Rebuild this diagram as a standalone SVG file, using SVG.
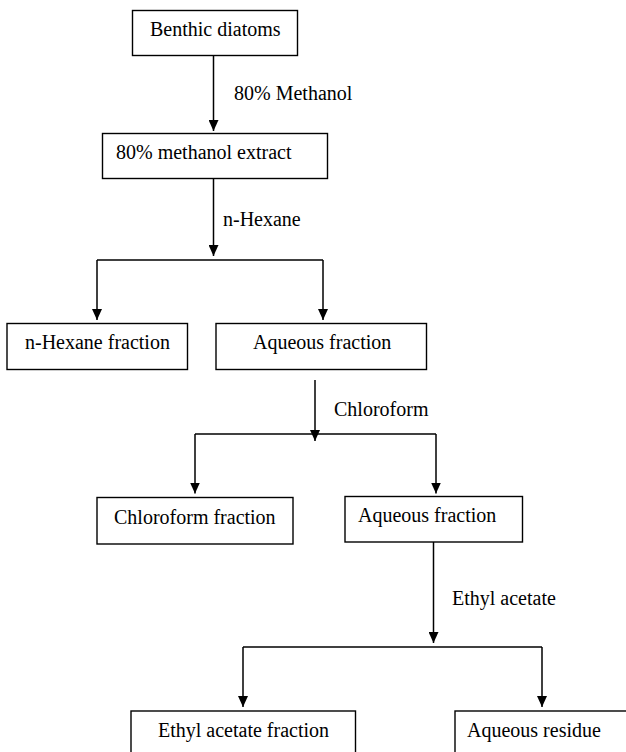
<svg xmlns="http://www.w3.org/2000/svg" width="626" height="752" viewBox="0 0 626 752">
<style>
.box{fill:#fff;stroke:#000;stroke-width:1.4}
.c{fill:none;stroke:#000;stroke-width:1.5}
</style>
<defs>
<marker id="ah" viewBox="0 0 11 10" refX="11" refY="5" markerWidth="11" markerHeight="10" orient="auto" markerUnits="userSpaceOnUse"><path d="M0,0 L11,5 L0,10 z" fill="#000"/></marker>
</defs>
<rect width="626" height="752" fill="#fff"/>
<g id="connectors">
<path class="c" d="M213.5,55.5 V131" marker-end="url(#ah)"/>
<path class="c" d="M213.5,178.5 V256" marker-end="url(#ah)"/>
<path class="c" d="M97,260 H323"/>
<path class="c" d="M97,260 V320" marker-end="url(#ah)"/>
<path class="c" d="M323,260 V320" marker-end="url(#ah)"/>
<path class="c" d="M315,380 V441" marker-end="url(#ah)"/>
<path class="c" d="M195,434 H436"/>
<path class="c" d="M195,434 V493.5" marker-end="url(#ah)"/>
<path class="c" d="M436,434 V493.5" marker-end="url(#ah)"/>
<path class="c" d="M433.5,542 V643" marker-end="url(#ah)"/>
<path class="c" d="M243,647 H542"/>
<path class="c" d="M243,647 V707" marker-end="url(#ah)"/>
<path class="c" d="M542,647 V707" marker-end="url(#ah)"/>
<text x="234" y="100" font-family="Liberation Serif" font-size="20" style="font-family:'Liberation Serif',serif;font-size:20px">80% Methanol</text>
<text x="223" y="226" font-family="Liberation Serif" font-size="20" style="font-family:'Liberation Serif',serif;font-size:20px">n-Hexane</text>
<text x="334" y="416" font-family="Liberation Serif" font-size="20" style="font-family:'Liberation Serif',serif;font-size:20px">Chloroform</text>
<text x="452" y="605" font-family="Liberation Serif" font-size="20" style="font-family:'Liberation Serif',serif;font-size:20px">Ethyl acetate</text>
</g>
<g id="n1"><rect class="box" x="132.5" y="10.5" width="165" height="45"/><text x="150" y="36" font-family="Liberation Serif" font-size="20" style="font-family:'Liberation Serif',serif;font-size:20px">Benthic diatoms</text></g>
<g id="n2"><rect class="box" x="102.5" y="133.5" width="225" height="45"/><text x="116" y="159" font-family="Liberation Serif" font-size="20" style="font-family:'Liberation Serif',serif;font-size:20px">80% methanol extract</text></g>
<g id="n3"><rect class="box" x="7" y="323.5" width="180.5" height="46"/><text x="25" y="349" font-family="Liberation Serif" font-size="20" style="font-family:'Liberation Serif',serif;font-size:20px">n-Hexane fraction</text></g>
<g id="n4"><rect class="box" x="216" y="323.5" width="210.5" height="46"/><text x="253" y="349" font-family="Liberation Serif" font-size="20" style="font-family:'Liberation Serif',serif;font-size:20px">Aqueous fraction</text></g>
<g id="n5"><rect class="box" x="97" y="497.5" width="196" height="46.5"/><text x="114" y="524" font-family="Liberation Serif" font-size="20" style="font-family:'Liberation Serif',serif;font-size:20px">Chloroform fraction</text></g>
<g id="n6"><rect class="box" x="345" y="496.5" width="177.5" height="45.5"/><text x="358" y="522" font-family="Liberation Serif" font-size="20" style="font-family:'Liberation Serif',serif;font-size:20px">Aqueous fraction</text></g>
<g id="n7"><rect class="box" x="131" y="711" width="224.5" height="50"/><text x="158" y="737" font-family="Liberation Serif" font-size="20" style="font-family:'Liberation Serif',serif;font-size:20px">Ethyl acetate fraction</text></g>
<g id="n8"><rect class="box" x="455" y="711" width="180" height="50"/><text x="467" y="737" font-family="Liberation Serif" font-size="20" style="font-family:'Liberation Serif',serif;font-size:20px">Aqueous residue</text></g>
</svg>
